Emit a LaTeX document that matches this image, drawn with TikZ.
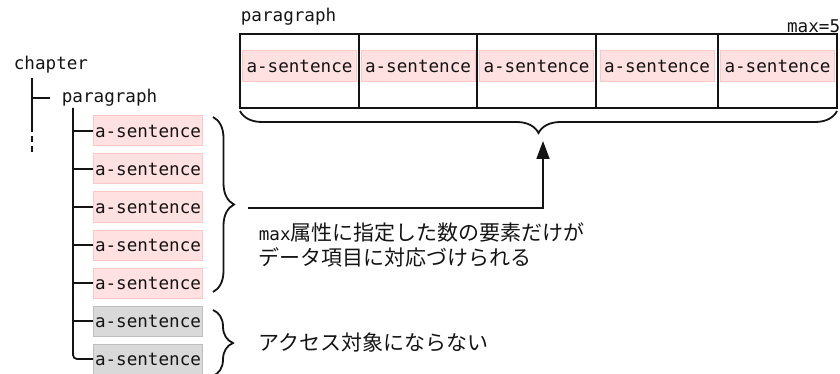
\documentclass[tikz,border=0pt]{standalone}
\usepackage{fontspec}
\setmainfont{DejaVu Sans Mono}
\newfontfamily\jp{Noto Sans CJK JP}
\usetikzlibrary{decorations.pathreplacing,arrows.meta}
\definecolor{pinkfill}{RGB}{255,225,225}
\definecolor{pinkline}{RGB}{255,198,198}
\definecolor{grayfill}{RGB}{217,217,217}
\definecolor{grayline}{RGB}{190,190,190}
\definecolor{ink}{RGB}{20,20,20}
\begin{document}
\begin{tikzpicture}[x=1pt,y=-1pt,line width=1.8pt,draw=ink,
  lbl/.style={font=\fontsize{17.6}{20}\selectfont,inner sep=0pt,text=ink},
  sent/.style={lbl,draw=pinkline,fill=pinkfill,line width=1pt,minimum width=109pt,minimum height=30pt},
  sentg/.style={sent,draw=grayline,fill=grayfill},
  cell/.style={draw=ink,minimum height=74pt,inner sep=0pt,outer sep=0pt},
  jtext/.style={font=\jp\fontsize{21}{25}\selectfont,inner sep=0pt,align=left,text=ink},
  brc/.style={decorate,decoration={brace,amplitude=#1}},
  brc/.default=21pt
]
\useasboundingbox (0,0) rectangle (840,374);

% tree
\node[lbl,anchor=west] (chap) at (13,65) {chapter};
\node[lbl,anchor=west] (para) at (61,98) {paragraph};
\node[sent,anchor=west] (s1) at (93,131) {a-sentence};
\node[sent,anchor=west] (s2) at (93,169) {a-sentence};
\node[sent,anchor=west] (s3) at (93,207) {a-sentence};
\node[sent,anchor=west] (s4) at (93,245) {a-sentence};
\node[sent,anchor=west] (s5) at (93,283) {a-sentence};
\node[sentg,anchor=west] (s6) at (93,321) {a-sentence};
\node[sentg,anchor=west] (s7) at (93,359) {a-sentence};

\coordinate (cv) at (32,78);
\coordinate (cb) at (32,98);
\draw (cv) -- (32,132);
\draw[dash pattern=on 6pt off 4pt] (32,136) -- (32,154);
\draw (cb) -- ([xshift=-11pt]para.west);
\coordinate (pv) at (73,108);
\draw[rounded corners=4pt] (pv) |- (s7.west);
\foreach \s in {s1,s2,s3,s4,s5,s6}{\draw (pv |- \s.west) -- (\s.west);}

% braces
\coordinate (b1a) at (213,117);
\coordinate (b1b) at (213,292);
\draw[brc] (b1a) -- (b1b);
\coordinate (b2a) at (213,310);
\coordinate (b2b) at (213,376);
\draw[brc=20pt] (b2a) -- (b2b);

% big box
\node[lbl,anchor=west] (plabel) at (240,17) {paragraph};
\node[lbl,anchor=east] (maxl) at (841,26) {max=5};
\node[cell,minimum width=119pt,anchor=north west] (c1) at (240,34) {};
\node[cell,minimum width=118pt,anchor=north west] (c2) at (c1.north east) {};
\node[cell,minimum width=119pt,anchor=north west] (c3) at (c2.north east) {};
\node[cell,minimum width=122pt,anchor=north west] (c4) at (c3.north east) {};
\node[cell,minimum width=119pt,anchor=north west] (c5) at (c4.north east) {};
\foreach \c/\t in {c1/t1,c2/t2,c3/t3,c4/t4,c5/t5}{
  \node[sent,minimum width=114pt,minimum height=31pt] (\t) at ([yshift=4.5pt]\c.center) {a-sentence};}

\coordinate (b3a) at (837,111);
\coordinate (b3b) at (240,111);
\draw[brc=22pt] (b3a) -- (b3b);

% arrow
\coordinate (as) at (248,208);
\coordinate (ae) at (543,141);
\draw[-{Triangle[length=18pt,width=13pt]}] (as) -| (ae);

% notes
\node[jtext,anchor=north west] (note1) at (258,222)
  {{\rmfamily\fontsize{17.6}{25}\selectfont max}属性に指定した数の要素だけが\\データ項目に対応づけられる};
\node[jtext,anchor=west] (note2) at (258,343) {アクセス対象にならない};
\end{tikzpicture}
\end{document}
